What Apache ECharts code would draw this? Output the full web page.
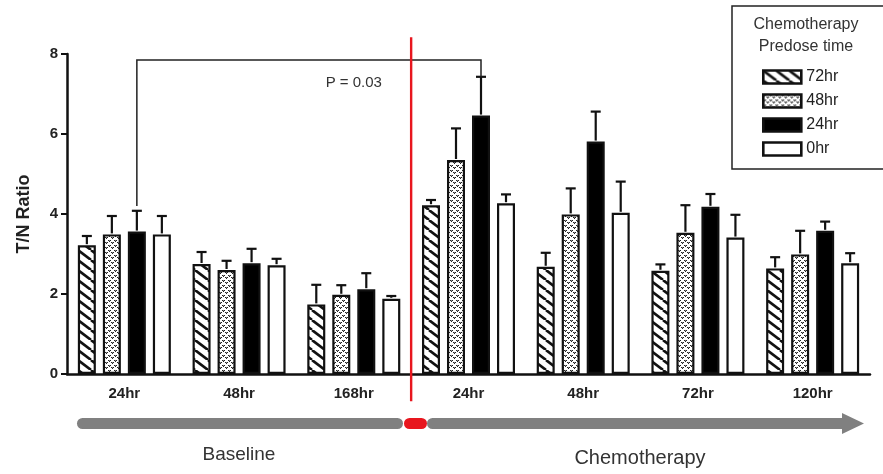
<!DOCTYPE html>
<html>
<head>
<meta charset="utf-8">
<script src="https://cdn.jsdelivr.net/npm/echarts@6/dist/echarts.min.js"></script>
<style>
  html, body { margin: 0; padding: 0; background: #fff; }
  #chart { width: 883px; height: 474px; }
</style>
</head>
<body>
<div id="chart"></div>
<script>
// category labels (two phases share the same time names)
const phases = ['Baseline', 'Baseline', 'Baseline', 'Chemo', 'Chemo', 'Chemo', 'Chemo'];
const times = ['24hr', '48hr', '168hr', '24hr', '48hr', '72hr', '120hr'];
const seriesNames = ['72hr', '48hr', '24hr', '0hr'];

// mean T/N ratio per predose group
const val72 = [3.22, 2.75, 1.74, 4.22, 2.68, 2.58, 2.64];
const val48 = [3.49, 2.60, 1.98, 5.35, 3.99, 3.53, 2.99];
const val24 = [3.56, 2.77, 2.12, 6.46, 5.81, 4.18, 3.58];
const val0 = [3.49, 2.72, 1.88, 4.27, 4.03, 3.41, 2.77];

// upper error (SEM)
const err72 = [0.23, 0.30, 0.49, 0.13, 0.35, 0.16, 0.28];
const err48 = [0.46, 0.23, 0.24, 0.79, 0.65, 0.69, 0.59];
const err24 = [0.52, 0.36, 0.40, 0.97, 0.75, 0.32, 0.23];
const err0 = [0.46, 0.16, 0.07, 0.22, 0.78, 0.57, 0.25];

const yTicks = [0, 2, 4, 6, 8];

// significance bracket: baseline 24hr vs chemo 24hr, 24hr predose bar
const pText = 'P = 0.03';

const FONT = '"Liberation Sans", Arial, sans-serif';
const BAR_W = 18;
const BAR_GAP = 7;

const categories = times.map((t, i) => phases[i] + ' ' + t);

// fill patterns
const hatch = (() => {
    const w = 13, h = 10;
    const c = document.createElement('canvas');
    c.width = w; c.height = h;
    const g = c.getContext('2d');
    g.fillStyle = '#fff';
    g.fillRect(0, 0, w, h);
    g.strokeStyle = '#111';
    g.lineWidth = 2.6;
    [-w, 0, w].forEach(k => {
        g.beginPath();
        g.moveTo(k, 0);
        g.lineTo(k + w, h);
        g.stroke();
    });
    return c;
})();

const dots = (() => {
    const c = document.createElement('canvas');
    c.width = 6; c.height = 5;
    const g = c.getContext('2d');
    g.fillStyle = '#fff';
    g.fillRect(0, 0, 6, 5);
    g.fillStyle = '#222';
    // small "v" marks, staggered rows
    g.fillRect(0, 0, 1, 1);
    g.fillRect(2, 0, 1, 1);
    g.fillRect(1, 1, 1, 1);
    g.fillRect(3, 2, 1, 1);
    g.fillRect(5, 2, 1, 1);
    g.fillRect(4, 3, 1, 1);
    g.fillStyle = '#888';
    g.fillRect(1, 0, 1, 1);
    g.fillRect(4, 2, 1, 1);
    return c;
})();

const fills = [
    { image: hatch, repeat: 'repeat' },
    { image: dots, repeat: 'repeat' },
    '#000',
    '#fff'
];
const values = [val72, val48, val24, val0];
const errors = [err72, err48, err24, err0];

const offsetOf = i => (i - 1.5) * (BAR_W + BAR_GAP);

const barSeries = seriesNames.map((name, i) => ({
    name,
    type: 'bar',
    barWidth: BAR_W,
    barGap: (BAR_GAP / BAR_W * 100).toFixed(1) + '%',
    data: values[i],
    itemStyle: { color: fills[i], borderColor: '#111', borderWidth: 2.2 },
    z: 2
}));

const errSeries = seriesNames.map((name, i) => ({
    name: name + ' err',
    type: 'custom',
    data: values[i].map((v, k) => [k, v, errors[i][k]]),
    encode: { x: 0, y: 1 },
    z: 3,
    renderItem: (params, api) => {
        const base = api.coord([api.value(0), api.value(1)]);
        const top = api.coord([api.value(0), api.value(1) + api.value(2)]);
        const x = base[0] + offsetOf(i);
        const st = { stroke: '#111', lineWidth: 2.2 };
        return {
            type: 'group',
            children: [
                { type: 'line', shape: { x1: x, y1: base[1] - 1, x2: x, y2: top[1] }, style: st },
                { type: 'line', shape: { x1: x - 5, y1: top[1], x2: x + 5, y2: top[1] }, style: st }
            ]
        };
    }
}));

// red divider between baseline and chemo phases plus the P bracket
const annotSeries = {
    type: 'custom',
    name: 'annot',
    data: [[0, 0]],
    encode: { x: 0, y: 1 },
    z: 4,
    clip: false,
    renderItem: (params, api) => {
        const left = api.coord([2, 0]);
        const right = api.coord([3, 0]);
        const xDiv = (left[0] + right[0]) / 2;
        const yTop = api.coord([0, 8.42])[1];
        const yBot = api.coord([0, -0.68])[1];

        const a = 0, b = 3, k = 2; // groups compared, bar index 24hr
        const x1 = api.coord([a, 0])[0] + offsetOf(k);
        const x2 = api.coord([b, 0])[0] + offsetOf(k);
        const yb = api.coord([0, 7.85])[1];
        const y1 = api.coord([0, val24[a] + err24[a] + 0.12])[1];
        const y2 = api.coord([0, val24[b] + err24[b]])[1];
        const tp = api.coord([2.03, 7.27]);
        return {
            type: 'group',
            children: [
                {
                    type: 'polyline',
                    shape: { points: [[x1, y1], [x1, yb], [x2, yb], [x2, y2]] },
                    style: { stroke: '#222', lineWidth: 1.5, fill: null }
                },
                {
                    type: 'line',
                    shape: { x1: xDiv, y1: yTop, x2: xDiv, y2: yBot },
                    style: { stroke: '#e8161e', lineWidth: 2.4 }
                },
                {
                    type: 'text',
                    x: tp[0], y: tp[1],
                    style: { text: pText, font: '15px ' + FONT, fill: '#333', align: 'center', verticalAlign: 'middle' }
                }
            ]
        };
    }
};

const chart = echarts.init(document.getElementById('chart'));

chart.setOption({
    animation: false,
    backgroundColor: '#fff',
    grid: { left: 67, right: 13, top: 54, bottom: 100 },
    legend: {
        data: seriesNames,
        orient: 'vertical',
        left: 757,
        top: 64,
        icon: 'rect',
        itemWidth: 38,
        itemHeight: 13,
        itemGap: 8,
        selectedMode: false,
        itemStyle: { borderWidth: 2.6, borderColor: '#111' },
        textStyle: { fontFamily: FONT, fontSize: 16, color: '#222' }
    },
    xAxis: {
        type: 'category',
        data: categories,
        axisLine: { lineStyle: { color: '#111', width: 2.5 } },
        axisTick: { alignWithLabel: true, length: 6, lineStyle: { color: '#111', width: 2 } },
        axisLabel: {
            margin: 12,
            fontFamily: FONT, fontSize: 15, fontWeight: 'bold', color: '#222',
            formatter: (v, idx) => times[idx]
        }
    },
    yAxis: {
        type: 'value',
        min: yTicks[0],
        max: yTicks[yTicks.length - 1],
        interval: 2,
        splitLine: { show: false },
        axisLine: { show: true, lineStyle: { color: '#111', width: 2.5 } },
        axisTick: { show: true, length: 6, lineStyle: { color: '#111', width: 2 } },
        axisLabel: { margin: 9, fontFamily: FONT, fontSize: 15, fontWeight: 'bold', color: '#222' },
        name: 'T/N Ratio',
        nameLocation: 'middle',
        nameGap: 34,
        nameTextStyle: { fontFamily: FONT, fontSize: 18, fontWeight: 'bold', color: '#222' }
    },
    graphic: [
        // legend frame and title
        {
            type: 'rect',
            shape: { x: 732, y: 6, width: 170, height: 163 },
            style: { fill: null, stroke: '#222', lineWidth: 1.5 },
            z: 10
        },
        {
            type: 'text', x: 806, y: 25,
            style: { text: 'Chemotherapy', font: '16px ' + FONT, fill: '#333', align: 'center', verticalAlign: 'middle' }
        },
        {
            type: 'text', x: 806, y: 47,
            style: { text: 'Predose time', font: '16px ' + FONT, fill: '#333', align: 'center', verticalAlign: 'middle' }
        },
        // timeline below the axis
        {
            type: 'rect',
            shape: { x: 77, y: 418, width: 326, height: 11, r: 5.5 },
            style: { fill: '#808080' }
        },
        {
            type: 'rect',
            shape: { x: 404, y: 418, width: 23, height: 11, r: 5.5 },
            style: { fill: '#e8161e' }
        },
        {
            type: 'polygon',
            shape: { points: [[432, 418], [842, 418], [842, 413], [864, 423.5], [842, 434], [842, 429], [432, 429]] },
            style: { fill: '#808080' }
        },
        {
            type: 'circle',
            shape: { cx: 432.5, cy: 423.5, r: 5.5 },
            style: { fill: '#808080' }
        },
        {
            type: 'text', x: 239, y: 455,
            style: { text: 'Baseline', font: '19px ' + FONT, fill: '#333', align: 'center', verticalAlign: 'middle' }
        },
        {
            type: 'text', x: 640, y: 458,
            style: { text: 'Chemotherapy', font: '20px ' + FONT, fill: '#333', align: 'center', verticalAlign: 'middle' }
        }
    ],
    series: [...barSeries, ...errSeries, annotSeries]
});
</script>
</body>
</html>
